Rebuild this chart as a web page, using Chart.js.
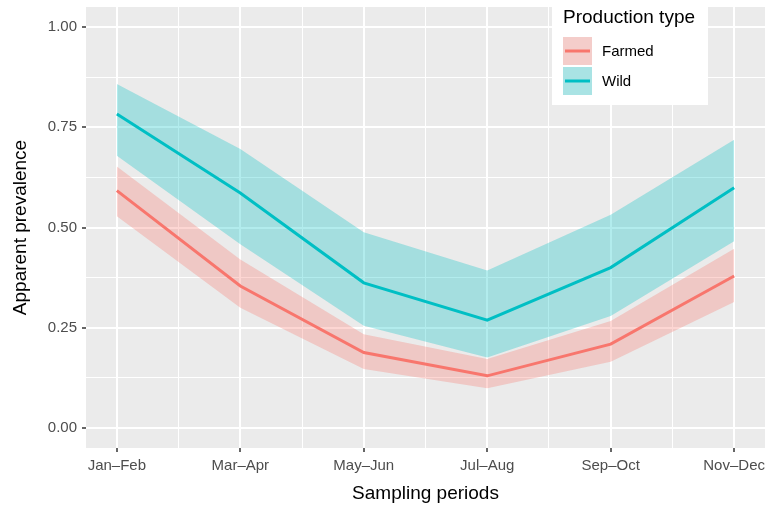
<!DOCTYPE html>
<html>
<head>
<meta charset="utf-8">
<script src="https://cdn.jsdelivr.net/npm/chart.js@4.4.0/dist/chart.umd.min.js"></script>
<style>
  html, body { margin: 0; padding: 0; background: #fff; }
  #wrap { width: 767px; height: 508px; }
</style>
</head>
<body>
<div id="wrap"><canvas id="chart"></canvas></div>
<script>
// ===== DATA =====
const periods = ['Jan–Feb', 'Mar–Apr', 'May–Jun', 'Jul–Aug', 'Sep–Oct', 'Nov–Dec'];
const seriesNames = ['Farmed', 'Wild'];

const farmedMean = [0.592, 0.354, 0.188, 0.130, 0.209, 0.379];
const farmedLow  = [0.528, 0.300, 0.147, 0.099, 0.165, 0.314];
const farmedHigh = [0.652, 0.420, 0.234, 0.172, 0.267, 0.447];

const wildMean = [0.783, 0.586, 0.362, 0.269, 0.400, 0.599];
const wildLow  = [0.679, 0.458, 0.255, 0.176, 0.279, 0.466];
const wildHigh = [0.858, 0.696, 0.488, 0.393, 0.532, 0.719];

const yBreaks = [0, 0.25, 0.5, 0.75, 1];

// ===== STYLE =====
const FONT = 'Liberation Sans, Arial, sans-serif';
const lineColors = ['#F8766D', '#00BFC4'];
const bandColors = ['rgba(248,118,109,0.3)', 'rgba(0,191,196,0.3)'];
const PANEL_BG = '#EBEBEB';

const pts = arr => arr.map((v, i) => ({ x: i, y: v }));

// major + minor (midpoint) breaks, like ggplot
const xTickVals = periods.flatMap((_, i) => i < periods.length - 1 ? [i, i + 0.5] : [i]);
const yTickVals = yBreaks.flatMap((v, i) => i < yBreaks.length - 1 ? [v, (v + yBreaks[i + 1]) / 2] : [v]);
const isMajorX = v => Number.isInteger(v);
const isMajorY = v => yBreaks.some(b => Math.abs(b - v) < 1e-9);

const panelBg = {
  id: 'panelBg',
  beforeDraw(chart) {
    const { ctx, chartArea: a } = chart;
    ctx.save();
    ctx.fillStyle = PANEL_BG;
    ctx.fillRect(a.left, a.top, a.right - a.left, a.bottom - a.top);
    ctx.restore();
  }
};

const ggLegend = {
  id: 'ggLegend',
  afterDraw(chart) {
    const ctx = chart.ctx;
    const x0 = chart.chartArea.right - 213, y0 = 5;
    ctx.save();
    ctx.fillStyle = '#fff';
    ctx.fillRect(x0, y0, 156, 100);
    ctx.fillStyle = '#000';
    ctx.font = '19px ' + FONT;
    ctx.textBaseline = 'middle';
    ctx.fillText('Production type', x0 + 11, y0 + 13);
    seriesNames.forEach((name, i) => {
      const ky = y0 + 32 + i * 30;
      ctx.fillStyle = '#F2F2F2';
      ctx.fillRect(x0 + 11, ky, 29, 28);
      ctx.fillStyle = bandColors[i];
      ctx.fillRect(x0 + 11, ky, 29, 28);
      ctx.strokeStyle = lineColors[i];
      ctx.lineWidth = 3;
      ctx.beginPath();
      ctx.moveTo(x0 + 13, ky + 14);
      ctx.lineTo(x0 + 38, ky + 14);
      ctx.stroke();
      ctx.fillStyle = '#000';
      ctx.font = '15px ' + FONT;
      ctx.fillText(name, x0 + 50, ky + 15);
    });
    ctx.restore();
  }
};

const band = (data, color, fill, order) => ({
  data: pts(data), fill, backgroundColor: color, borderWidth: 0,
  pointRadius: 0, tension: 0, order
});

new Chart(document.getElementById('chart'), {
  type: 'line',
  data: {
    datasets: [
      band(farmedHigh, bandColors[0], '+1', 3),
      band(farmedLow, bandColors[0], false, 3),
      band(wildHigh, bandColors[1], '+1', 2),
      band(wildLow, bandColors[1], false, 2),
      { data: pts(farmedMean), borderColor: lineColors[0], borderWidth: 3, pointRadius: 0, fill: false, order: 1 },
      { data: pts(wildMean), borderColor: lineColors[1], borderWidth: 3, pointRadius: 0, fill: false, order: 0 }
    ]
  },
  options: {
    responsive: true,
    maintainAspectRatio: false,
    animation: false,
    layout: { padding: { top: 7, right: 2, bottom: 0, left: 0 } },
    plugins: { legend: { display: false }, tooltip: { enabled: false } },
    scales: {
      x: {
        type: 'linear', min: -0.25, max: 5.25,
        afterBuildTicks: s => { s.ticks = xTickVals.map(v => ({ value: v })); },
        afterFit: s => { s.height = 60; s.paddingLeft = 0; s.paddingRight = 0; },
        border: { display: false },
        grid: {
          color: '#fff',
          lineWidth: c => isMajorX(c.tick.value) ? 2 : 1,
          tickLength: 4,
          tickWidth: 1.5,
          tickColor: c => isMajorX(c.tick.value) ? '#333' : 'rgba(0,0,0,0)'
        },
        ticks: {
          autoSkip: false, maxRotation: 0, padding: 5,
          color: '#4D4D4D', font: { family: FONT, size: 15 },
          callback: v => isMajorX(v) ? periods[v] : ''
        },
        title: {
          display: true, text: 'Sampling periods', color: '#000',
          font: { family: FONT, size: 19 }, padding: { top: 0, bottom: 3 }
        }
      },
      y: {
        min: -0.05, max: 1.05,
        afterBuildTicks: s => { s.ticks = yTickVals.map(v => ({ value: v })); },
        afterFit: s => { s.width = 86; s.paddingTop = 0; s.paddingBottom = 0; },
        border: { display: false },
        grid: {
          color: '#fff',
          lineWidth: c => isMajorY(c.tick.value) ? 2 : 1,
          tickLength: 4,
          tickWidth: 1.5,
          tickColor: c => isMajorY(c.tick.value) ? '#333' : 'rgba(0,0,0,0)'
        },
        ticks: {
          autoSkip: false, padding: 5,
          color: '#4D4D4D', font: { family: FONT, size: 15 },
          callback: v => isMajorY(v) ? v.toFixed(2) : ''
        },
        title: {
          display: true, text: 'Apparent prevalence', color: '#000',
          font: { family: FONT, size: 19 }, padding: { top: 9, bottom: 0 }
        }
      }
    }
  },
  plugins: [panelBg, ggLegend]
});
</script>
</body>
</html>
